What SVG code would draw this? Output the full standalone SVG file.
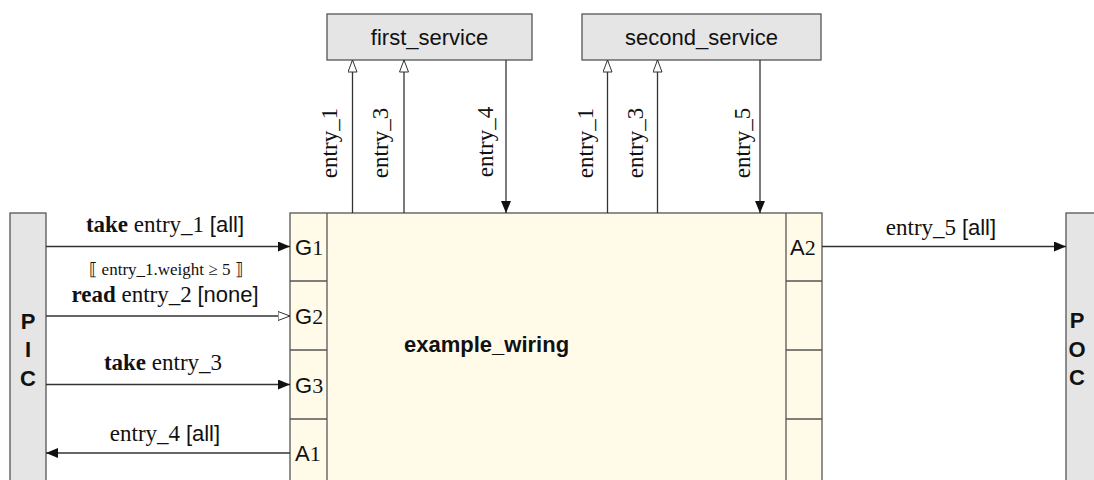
<svg xmlns="http://www.w3.org/2000/svg" width="1094" height="480" viewBox="0 0 1094 480">
<style>
.box{stroke:#555;stroke-width:1.3}
.grey{fill:#e5e5e5}
.cream{fill:#fffbe8}
.ln{stroke:#333;stroke-width:1.3;fill:none}
.t{font-family:"Liberation Serif",serif;font-size:23px;fill:#111}
.p{font-family:"Liberation Serif",serif;font-size:22px}
.s{font-family:"Liberation Sans",sans-serif;font-size:22px}
.b{font-weight:bold}
.g{font-family:"Liberation Serif","DejaVu Serif",serif;font-size:17px;fill:#111}
.h{font-family:"Liberation Sans",sans-serif;font-size:22px;fill:#111}
.hb{font-family:"Liberation Sans",sans-serif;font-size:22px;font-weight:bold;fill:#111}
</style>
<defs>
<marker id="fa" markerUnits="userSpaceOnUse" markerWidth="13" markerHeight="11" refX="12" refY="5" orient="auto">
<path d="M0,0 L12,5 L0,10 z" fill="#111"/>
</marker>
<marker id="oa" markerUnits="userSpaceOnUse" markerWidth="14" markerHeight="12" refX="12.5" refY="5" orient="auto">
<path d="M0.5,0.5 L12.5,5 L0.5,9.5 z" fill="#fff" stroke="#333" stroke-width="1"/>
</marker>
</defs>

<g id="PIC">
<rect class="box grey" x="10" y="213" width="36" height="280"/>
<text class="hb" x="28" y="329" text-anchor="middle">P</text>
<text class="hb" x="28" y="357" text-anchor="middle">I</text>
<text class="hb" x="28" y="386" text-anchor="middle">C</text>
</g>

<g id="POC">
<rect class="box grey" x="1066" y="213" width="40" height="280"/>
<text class="hb" x="1077" y="328" text-anchor="middle">P</text>
<text class="hb" x="1077" y="357" text-anchor="middle">O</text>
<text class="hb" x="1077" y="385" text-anchor="middle">C</text>
</g>

<g id="first_service">
<rect class="box grey" x="327" y="14" width="205" height="46"/>
<text class="h" x="429.5" y="45" text-anchor="middle">first_service</text>
</g>

<g id="second_service">
<rect class="box grey" x="582" y="14" width="239" height="46"/>
<text class="h" x="701.5" y="45" text-anchor="middle">second_service</text>
</g>

<g id="example_wiring">
<rect class="box cream" x="290" y="213" width="532" height="280"/>
<line class="box" x1="327" y1="213" x2="327" y2="493"/>
<line class="box" x1="786" y1="213" x2="786" y2="493"/>
<line class="box" x1="290" y1="281" x2="327" y2="281"/>
<line class="box" x1="290" y1="350" x2="327" y2="350"/>
<line class="box" x1="290" y1="419" x2="327" y2="419"/>
<line class="box" x1="786" y1="281" x2="822" y2="281"/>
<line class="box" x1="786" y1="350" x2="822" y2="350"/>
<line class="box" x1="786" y1="419" x2="822" y2="419"/>
<text class="hb" x="404" y="352">example_wiring</text>
<text class="h" x="295" y="255">G<tspan class="p">1</tspan></text>
<text class="h" x="295" y="324">G<tspan class="p">2</tspan></text>
<text class="h" x="295" y="393">G<tspan class="p">3</tspan></text>
<text class="h" x="295" y="461">A<tspan class="p">1</tspan></text>
<text class="h" x="790" y="255">A<tspan class="p">2</tspan></text>
</g>

<g id="connectors">
<line class="ln" x1="46" y1="246.5" x2="290" y2="246.5" marker-end="url(#fa)"/>
<text class="t" x="165" y="232" text-anchor="middle"><tspan class="b">take</tspan> entry_1 <tspan class="s">[all]</tspan></text>
<text class="g" x="166" y="275" text-anchor="middle">⟦ entry_1.weight ≥ 5 ⟧</text>

<line class="ln" x1="46" y1="316" x2="290" y2="316" marker-end="url(#oa)"/>
<text class="t" x="165" y="302" text-anchor="middle"><tspan class="b">read</tspan> entry_2 <tspan class="s">[none]</tspan></text>

<line class="ln" x1="46" y1="384.5" x2="290" y2="384.5" marker-end="url(#fa)"/>
<text class="t" x="163" y="370" text-anchor="middle"><tspan class="b">take</tspan> entry_3</text>

<line class="ln" x1="290" y1="453" x2="46" y2="453" marker-end="url(#fa)"/>
<text class="t" x="165" y="441" text-anchor="middle">entry_4 <tspan class="s">[all]</tspan></text>

<line class="ln" x1="822" y1="246.5" x2="1066" y2="246.5" marker-end="url(#fa)"/>
<text class="t" x="941" y="235" text-anchor="middle">entry_5 <tspan class="s">[all]</tspan></text>

<line class="ln" x1="352.5" y1="213" x2="352.5" y2="60" marker-end="url(#oa)"/>
<text class="t" transform="translate(337,143) rotate(-90)" text-anchor="middle">entry_1</text>
<line class="ln" x1="404" y1="213" x2="404" y2="60" marker-end="url(#oa)"/>
<text class="t" transform="translate(388,143) rotate(-90)" text-anchor="middle">entry_3</text>
<line class="ln" x1="506" y1="60" x2="506" y2="213" marker-end="url(#fa)"/>
<text class="t" transform="translate(493,142) rotate(-90)" text-anchor="middle">entry_4</text>

<line class="ln" x1="607.5" y1="213" x2="607.5" y2="60" marker-end="url(#oa)"/>
<text class="t" transform="translate(593,143) rotate(-90)" text-anchor="middle">entry_1</text>
<line class="ln" x1="657.5" y1="213" x2="657.5" y2="60" marker-end="url(#oa)"/>
<text class="t" transform="translate(643,143) rotate(-90)" text-anchor="middle">entry_3</text>
<line class="ln" x1="760" y1="60" x2="760" y2="213" marker-end="url(#fa)"/>
<text class="t" transform="translate(750,143) rotate(-90)" text-anchor="middle">entry_5</text>
</g>
</svg>
